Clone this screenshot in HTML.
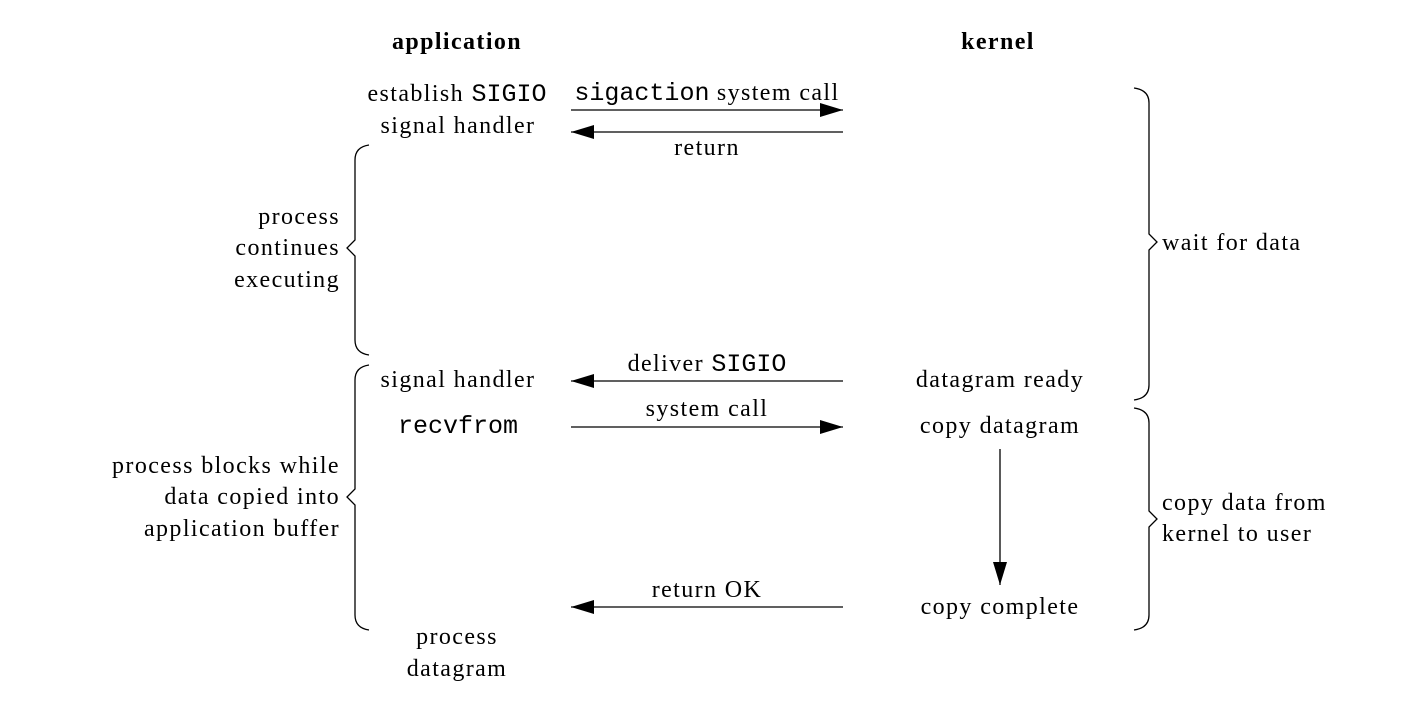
<!DOCTYPE html>
<html><head><meta charset="utf-8"><style>
html,body{margin:0;padding:0;background:#fff;}
svg{display:block;}
text{font-family:"Liberation Serif",serif;font-size:24px;letter-spacing:1.4px;fill:#000;}
.m{font-family:"Liberation Mono",monospace;font-size:25px;letter-spacing:0;}
.b{font-weight:bold;}
</style></head><body>
<svg width="1414" height="704" viewBox="0 0 1414 704">
<defs><marker id="a" markerWidth="24" markerHeight="14" refX="23" refY="7" orient="auto" markerUnits="userSpaceOnUse"><path d="M0,0 L23,7 L0,14 Z" fill="#000"/></marker></defs>
<g text-anchor="middle">
<text x="457" y="49" class="b">application</text>
<text x="998" y="49" class="b">kernel</text>
<text x="457" y="101">establish <tspan class="m">SIGIO</tspan></text>
<text x="458" y="133">signal handler</text>
<text x="707" y="100"><tspan class="m">sigaction</tspan> system call</text>
<text x="707" y="155">return</text>
<text x="707" y="371">deliver <tspan class="m">SIGIO</tspan></text>
<text x="458" y="387">signal handler</text>
<text x="1000" y="387">datagram ready</text>
<text x="707" y="416">system call</text>
<text x="458" y="433" class="m">recvfrom</text>
<text x="1000" y="433">copy datagram</text>
<text x="707" y="597">return OK</text>
<text x="1000" y="614">copy complete</text>
<text x="457" y="644">process</text>
<text x="457" y="676">datagram</text>
</g>
<g text-anchor="end">
<text x="340" y="224">process</text>
<text x="340" y="255">continues</text>
<text x="340" y="287">executing</text>
<text x="340" y="473">process blocks while</text>
<text x="340" y="504">data copied into</text>
<text x="340" y="536">application buffer</text>
</g>
<text x="1162" y="250">wait for data</text>
<text x="1162" y="510">copy data from</text>
<text x="1162" y="541">kernel to user</text>
<g stroke="#000" stroke-width="1.3" fill="none">
<line x1="571" y1="110" x2="843" y2="110" marker-end="url(#a)"/>
<line x1="843" y1="132" x2="571" y2="132" marker-end="url(#a)"/>
<line x1="843" y1="381" x2="571" y2="381" marker-end="url(#a)"/>
<line x1="571" y1="427" x2="843" y2="427" marker-end="url(#a)"/>
<line x1="843" y1="607" x2="571" y2="607" marker-end="url(#a)"/>
<line x1="1000" y1="449" x2="1000" y2="585" marker-end="url(#a)"/>
<path d="M369,145 Q355,147 355,160 L355,240 L347,248 L355,256 L355,340 Q355,353 369,355"/>
<path d="M369,365 Q355,367 355,380 L355,489 L347,497 L355,505 L355,615 Q355,628 369,630"/>
<path d="M1134,88 Q1149,90 1149,103 L1149,234 L1157,242 L1149,250 L1149,385 Q1149,398 1134,400"/>
<path d="M1134,408 Q1149,410 1149,423 L1149,511 L1157,519 L1149,527 L1149,615 Q1149,628 1134,630"/>
</g>
</svg>
</body></html>
